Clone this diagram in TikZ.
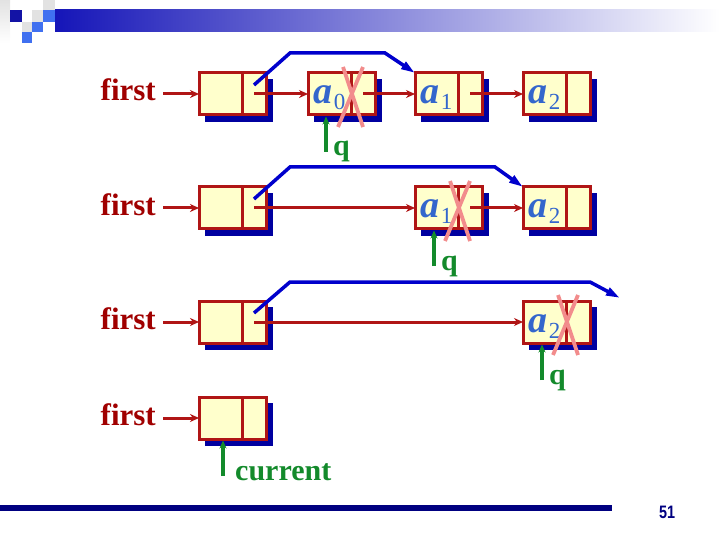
\documentclass[tikz,border=0pt]{standalone}
\usepackage{fontspec}
\setmainfont{Liberation Serif}
\setsansfont{Liberation Sans}
\usetikzlibrary{arrows.meta,calc,backgrounds}
\definecolor{boxred}{HTML}{B01515}
\definecolor{boxfill}{HTML}{FFFFCC}
\definecolor{shadowc}{HTML}{0000A0}
\definecolor{firstc}{HTML}{A00000}
\definecolor{bluec}{HTML}{0000CC}
\definecolor{atext}{HTML}{3366CC}
\definecolor{greenc}{HTML}{138A2B}
\definecolor{crossc}{HTML}{F28C8C}
\definecolor{navyc}{HTML}{000080}
\definecolor{hdrblue}{HTML}{1515B8}
\definecolor{hdrmid}{HTML}{4070F0}
\definecolor{hdrgray}{HTML}{E2E2E2}
\tikzset{
  datac/.style={draw=boxred, line width=3pt, fill=boxfill, minimum width=43pt,
    minimum height=42pt, inner sep=0pt, outer sep=0pt, text=atext,
    text height=31pt, text depth=11pt},
  ptrc/.style={draw=boxred, line width=3pt, fill=boxfill, minimum width=24pt,
    minimum height=42pt, inner sep=0pt, outer sep=0pt, anchor=west},
  firstt/.style={text=firstc, inner sep=0pt, anchor=base east,
    font=\fontsize{31}{31}\selectfont\bfseries},
  greent/.style={text=greenc, inner sep=0pt, anchor=base west,
    font=\fontsize{30}{30}\selectfont\bfseries},
  redarr/.style={draw=boxred, line width=3pt, -{Stealth[length=9pt,width=8pt]}},
  bluearr/.style={draw=bluec, line width=3.5pt, -{Triangle[length=14pt,width=8pt]}},
  greenarr/.style={draw=greenc, line width=3.2pt, -{Stealth[length=8pt,width=7pt]}},
  crossl/.style={draw=crossc, line width=3.8pt},
}
\newcommand\atxt[1]{{\fontsize{38}{38}\selectfont\bfseries\itshape a}\kern1pt\raisebox{-6pt}{\fontsize{23}{23}\selectfont #1}}
\newcommand\lnode[4]{%
  \node[datac] (#1d) at (#2,#3) {#4};
  \node[ptrc] (#1p) at (#1d.east) {};
  \begin{pgfonlayer}{background}
    \fill[shadowc] ($(#1d.north west)+(6,6)$) rectangle ($(#1p.south east)+(7,7)$);
  \end{pgfonlayer}
}
\newcommand\crossmark[1]{%
  \draw[crossl] ($(#1.north west)+(35,-6)$) -- ($(#1.north west)+(55,54)$);
  \draw[crossl] ($(#1.north west)+(55,-6)$) -- ($(#1.north west)+(30,54)$);
}
\begin{document}
\begin{tikzpicture}[x=1pt,y=-1pt]
\useasboundingbox (0,0) rectangle (720,540);
% header
\shade[left color=hdrblue, right color=white] (55,10) rectangle (720,32);
\shade[top color=hdrgray, bottom color=white] (0,0) rectangle (10,43);
\fill[hdrgray] (43,0) rectangle (55,10);
\fill[hdrgray] (32,10) rectangle (43,22);
\fill[hdrgray] (22,22) rectangle (32,32);
\fill[hdrblue!90!black] (10,10) rectangle (22,22);
\fill[hdrmid] (43,10) rectangle (55,22);
\fill[hdrmid] (32,22) rectangle (43,32);
\fill[hdrmid] (22,32) rectangle (32,43);
% footer
\fill[navyc] (0,505) rectangle (612,511);
\node[text=navyc, inner sep=0pt, anchor=base, font=\sffamily\bfseries\fontsize{18}{18}\selectfont] (pg) at (667,518) {\scalebox{0.8}[1]{51}};

% ---------- row 1
\lnode{r1n}{220.5}{94}{}
\lnode{r1a}{329.5}{94}{\atxt{0}}
\lnode{r1b}{436.5}{94}{\atxt{1}}
\lnode{r1c}{544.5}{94}{\atxt{2}}
\node[firstt] (f1) at (156,101) {first};
\draw[redarr] ($(f1.east |- r1nd.west)+(7,0)$) -- (r1nd.west);
\draw[redarr] (r1np.center) -- (r1ad.west);
\draw[redarr] (r1ap.center) -- (r1bd.west);
\draw[redarr] (r1bp.center) -- (r1cd.west);
\draw[bluearr] ($(r1np.center)+(0,-9)$) -- ($(r1np.center)+(36,-41)$) -- ($(r1bd.north west)+(-30,-20)$) -- (r1bd.north west);
\crossmark{r1ad}
\coordinate (q1top) at ($(r1ad.south west)+(18,1.5)$);
\coordinate (q1bot) at ($(r1ad.south west)+(18,37)$);
\draw[greenarr] (q1bot) -- (q1top);
\node[greent] (q1) at (333,156) {q};

% ---------- row 2
\lnode{r2n}{220.5}{208}{}
\lnode{r2b}{436.5}{208}{\atxt{1}}
\lnode{r2c}{544.5}{208}{\atxt{2}}
\node[firstt] (f2) at (156,215) {first};
\draw[redarr] ($(f2.east |- r2nd.west)+(7,0)$) -- (r2nd.west);
\draw[redarr] (r2np.center) -- (r2bd.west);
\draw[redarr] (r2bp.center) -- (r2cd.west);
\draw[bluearr] ($(r2np.center)+(0,-9)$) -- ($(r2np.center)+(36,-41)$) -- ($(r2cd.north west)+(-28,-20)$) -- (r2cd.north west);
\crossmark{r2bd}
\coordinate (q2top) at ($(r2bd.south west)+(19,1.5)$);
\coordinate (q2bot) at ($(r2bd.south west)+(19,37)$);
\draw[greenarr] (q2bot) -- (q2top);
\node[greent] (q2) at (441,270) {q};

% ---------- row 3
\lnode{r3n}{220.5}{322}{}
\lnode{r3c}{544.5}{322}{\atxt{2}}
\node[firstt] (f3) at (156,329) {first};
\draw[redarr] ($(f3.east |- r3nd.west)+(7,0)$) -- (r3nd.west);
\draw[redarr] (r3np.center) -- (r3cd.west);
\coordinate (e3) at (620,298);
\draw[bluearr] ($(r3np.center)+(0,-9)$) -- ($(r3np.center)+(36,-40)$) -- ($(e3)+(-30,-16)$) -- (e3);
\crossmark{r3cd}
\coordinate (q3top) at ($(r3cd.south west)+(19,1.5)$);
\coordinate (q3bot) at ($(r3cd.south west)+(19,37)$);
\draw[greenarr] (q3bot) -- (q3top);
\node[greent] (q3) at (549,384) {q};

% ---------- row 4
\lnode{r4n}{220.5}{418}{}
\node[firstt] (f4) at (156,425) {first};
\draw[redarr] ($(f4.east |- r4nd.west)+(7,0)$) -- (r4nd.west);
\coordinate (c4top) at ($(r4nd.south west)+(24,1.5)$);
\coordinate (c4bot) at ($(r4nd.south west)+(24,37)$);
\draw[greenarr] (c4bot) -- (c4top);
\node[greent] (cur) at (235,480) {current};
\end{tikzpicture}
\end{document}
